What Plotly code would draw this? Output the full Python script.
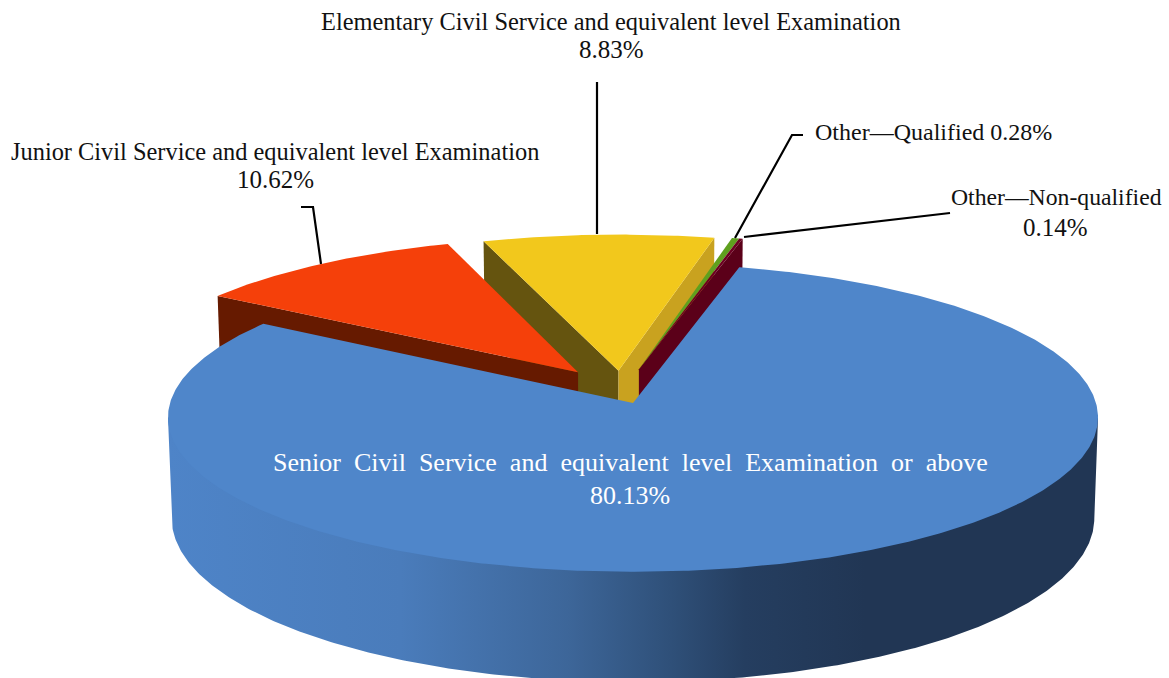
import numpy as np
import plotly.graph_objects as go

# ---- data ----
categories = [
    "Senior Civil Service and equivalent level Examination or above",
    "Junior Civil Service and equivalent level Examination",
    "Elementary Civil Service and equivalent level Examination",
    "Other—Qualified",
    "Other—Non-qualified",
]
values = [80.13, 10.62, 8.83, 0.28, 0.14]

# ---- styling / projection ----
FONT = "Liberation Serif"
top_colors = ["#4f86ca", "#f5400a", "#f2c81c", "#5fa01e", "#6b0020"]
START = 14.5
CX, CY, A, B, P, D, TAPER = 633, 403, 463, 153, 0.0935, 100, 0.008
offsets = [(0, 0), (-0.121, 0.205), (-0.032, 0.215), (0.013, 0.225), (0.013, 0.225)]
radii = [1.0, 1.0, 1.012, 1.0, 1.0]


def project(X, Y, z=0.0):
    s = 1 / (1 + P * Y)
    return CX + A * X * s * (1 - TAPER * z), CY - B * Y * s + D * z * s


def rim(a0, a1, off=(0, 0), z=0.0, r=1.0):
    n = max(2, int(abs(a1 - a0) * 2) + 1)
    t = np.radians(np.linspace(a0, a1, n))
    return project(r * np.sin(t) + off[0], r * np.cos(t) + off[1], z)


def poly(xs, ys, color=None, name="", gradient=None):
    kw = dict(fillgradient=gradient) if gradient else dict(fillcolor=color)
    return go.Scatter(x=list(xs), y=list(ys), mode="lines", fill="toself",
                      line=dict(width=0), hoverinfo="name", name=name,
                      showlegend=False, **kw)


def top(i, a0, a1):
    x, y = rim(a0, a1, offsets[i], r=radii[i])
    ax, ay = project(offsets[i][0], offsets[i][1])
    return poly(np.r_[ax, x, ax], np.r_[ay, y, ay], top_colors[i], categories[i])


def cut(i, ang, color):
    off = offsets[i]
    t = np.radians(ang)
    ex, ey = radii[i] * np.sin(t) + off[0], radii[i] * np.cos(t) + off[1]
    p = [project(off[0], off[1]), project(ex, ey), project(ex, ey, 1), project(off[0], off[1], 1)]
    p.append(p[0])
    return poly([q[0] for q in p], [q[1] for q in p], color, categories[i])


# slice angles follow the values, clockwise from START
edges = START + np.r_[0, np.cumsum(values)] * 3.6
fig = go.Figure()

# back-to-front painting
fig.add_trace(cut(2, edges[2], "#65540f"))
fig.add_trace(cut(2, edges[3], "#c9a21f"))
fig.add_trace(top(2, edges[2], edges[3]))
fig.add_trace(cut(4, edges[5], "#5b0019"))
fig.add_trace(top(3, edges[3], edges[4]))
fig.add_trace(top(4, edges[4], edges[5]))
fig.add_trace(cut(1, edges[1], "#661a00"))
fig.add_trace(top(1, edges[1], edges[2]))

# outer wall of the big slice; its upper edge tucks under the top face
ix, iy = rim(95.4, 264.6, r=0.97)
ox0, oy0 = project(np.sin(np.radians(95.4)), np.cos(np.radians(95.4)))
ox1, oy1 = project(np.sin(np.radians(264.6)), np.cos(np.radians(264.6)))
bx, by = rim(95.4, 264.6, z=1)
fig.add_trace(poly(np.r_[ox0, ix, ox1, bx[::-1], ox0], np.r_[oy0, iy, oy1, by[::-1], oy0], name=categories[0],
                   gradient=dict(type="horizontal", start=168, stop=1098, colorscale=[
                       [0.0, "#4e84c8"], [0.25, "#4a7cbb"], [0.43, "#3d6699"],
                       [0.54, "#2f5079"], [0.62, "#253e60"], [0.75, "#213654"], [1.0, "#213654"]])))
fig.add_trace(top(0, edges[0], edges[1]))

# leader lines
leaders = [
    ([597, 597], [82, 234]),
    ([301, 313, 321], [207, 207, 264]),
    ([803, 792, 735], [135, 135, 238]),
    ([950, 744], [213, 237]),
]
for lx, ly in leaders:
    fig.add_trace(go.Scatter(x=lx, y=ly, mode="lines", line=dict(color="black", width=2.2),
                             hoverinfo="skip", showlegend=False))

# labels
NB = "\u00a0"
senior_text = "Senior Civil Service and equivalent level Examination or above".replace(" ", NB + NB)
labels = [
    (611, 21, "Elementary Civil Service and equivalent level Examination", "#111", 24.4),
    (611, 49, "8.83%", "#111", 25),
    (274.5, 151, "Junior Civil Service and equivalent level Examination", "#111", 24.4),
    (275, 179, "10.62%", "#111", 25),
    (933.5, 132, "Other—Qualified 0.28%", "#111", 24),
    (1056, 197, "Other—Non-qualified", "#111", 23.7),
    (1055, 227, "0.14%", "#111", 25),
    (630, 462, senior_text, "white", 26),
    (630, 495, "80.13%", "white", 26),
]
for x, y, t, c, sz in labels:
    fig.add_annotation(x=x, y=y, text=t, showarrow=False, xanchor="center", yanchor="middle",
                       font=dict(family=FONT, size=sz, color=c))

fig.update_xaxes(range=[0, 1169], visible=False, fixedrange=True)
fig.update_yaxes(range=[678, 0], visible=False, fixedrange=True)
fig.update_layout(width=1169, height=678, margin=dict(l=0, r=0, t=0, b=0),
                  paper_bgcolor="white", plot_bgcolor="white", showlegend=False)
fig.write_html("out.html", config=dict(displayModeBar=False),
               post_script="document.body.style.margin='0';")
